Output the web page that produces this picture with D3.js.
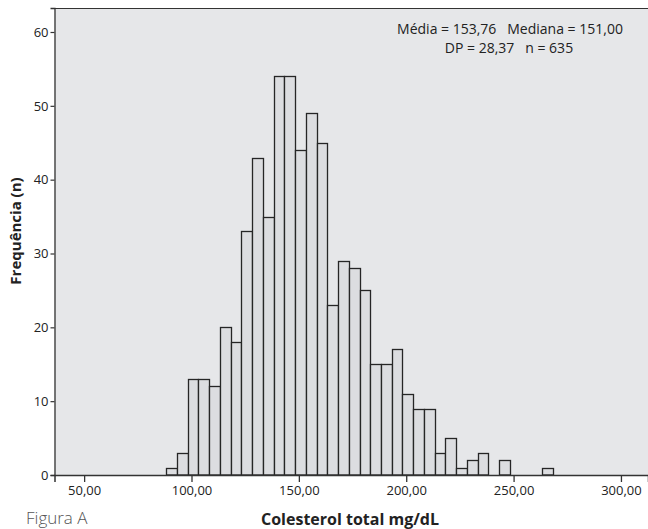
<!DOCTYPE html>
<html>
<head>
<meta charset="utf-8">
<script src="https://cdn.jsdelivr.net/npm/d3@7"></script>
<style>
  html, body { margin: 0; padding: 0; background: #fff; }
  svg { display: block; font-family: "Open Sans", "Noto Sans", sans-serif; }
</style>
</head>
<body>
<svg id="chart" width="648" height="529"></svg>
<script>
// Histogram bins (lower edge, mg/dL) and frequencies
const binStarts = [88.25, 93.25, 98.25, 103.25, 108.25, 113.25, 118.25, 123.25, 128.25, 133.25,
                   138.25, 143.25, 148.25, 153.25, 158.25, 163.25, 168.25, 173.25, 178.25, 183.25,
                   188.25, 193.25, 198.25, 203.25, 208.25, 213.25, 218.25, 223.25, 228.25, 233.25,
                   238.25, 243.25, 248.25, 253.25, 258.25, 263.25];
const binWidth = 5;
const counts = [1, 3, 13, 13, 12, 20, 18, 33, 43, 35,
                54, 54, 44, 49, 45, 23, 29, 28, 25, 15,
                15, 17, 11, 9, 9, 3, 5, 1, 2, 3,
                0, 2, 0, 0, 0, 1];
const xTicks = [50, 100, 150, 200, 250, 300];
const yTicks = [0, 10, 20, 30, 40, 50, 60];
const statsLines = ["Média = 153,76   Mediana = 151,00", "DP = 28,37   n = 635"];
const xTitle = "Colesterol total mg/dL";
const yTitle = "Frequência (n)";
const figLabel = "Figura A";

(function () {
const svg = d3.select("#chart");
const pL = 54.5, pR = 648, pT = 8, pB = 475;

const x = d3.scaleLinear().domain([36.2, 312.6]).range([pL, pR]);
const y = d3.scaleLinear().domain([0, 63.25]).range([pB, pT]);

// plot background
svg.append("rect")
  .attr("x", pL).attr("y", pT)
  .attr("width", pR - pL).attr("height", pB - pT)
  .attr("fill", "#e6e7e9");

// bars
const data = binStarts.map((s, i) => ({ s, c: counts[i] }));
svg.append("g").selectAll("rect")
  .data(data.filter(d => d.c > 0))
  .join("rect")
  .attr("x", d => Math.round(x(d.s)) + 0.5)
  .attr("width", d => Math.round(x(d.s + binWidth)) - Math.round(x(d.s)))
  .attr("y", d => Math.round(y(d.c)) + 0.5)
  .attr("height", d => pB - Math.round(y(d.c)) - 0.5)
  .attr("fill", "#dcdde0")
  .attr("stroke", "#262626")
  .attr("stroke-width", 1.3);

// frame top line
svg.append("line").attr("x1", pL).attr("x2", pR).attr("y1", pT + 0.5).attr("y2", pT + 0.5)
  .attr("stroke", "#333").attr("stroke-width", 1.2);

// axes
const xAxis = d3.axisBottom(x).tickValues(xTicks).tickSize(7).tickPadding(4)
  .tickFormat(d => d3.format(".2f")(d).replace(".", ","));
const gx = svg.append("g").attr("transform", `translate(0,${pB})`).call(xAxis);
gx.select(".domain").attr("stroke", "#333").attr("stroke-width", 1.5);
gx.selectAll(".tick line").attr("stroke", "#333").attr("stroke-width", 1.3);
gx.selectAll("text").attr("font-size", 13).attr("fill", "#222")
  .attr("font-family", "'Open Sans', sans-serif");

const yAxis = d3.axisLeft(y).tickValues(yTicks).tickSize(4).tickPadding(2).tickFormat(d3.format("d"));
const gy = svg.append("g").attr("transform", `translate(${pL},0)`).call(yAxis);
gy.select(".domain").attr("stroke", "#333").attr("stroke-width", 1.3);
gy.selectAll(".tick line").attr("stroke", "#333").attr("stroke-width", 1.2);
gy.selectAll("text").attr("font-size", 13).attr("fill", "#222")
  .attr("font-family", "'Open Sans', sans-serif");

// stats text
svg.append("text").attr("x", 510).attr("y", 34).attr("text-anchor", "middle")
  .attr("font-size", 14).attr("fill", "#222")
  .style("white-space", "pre").text(statsLines[0]);
svg.append("text").attr("x", 509).attr("y", 53).attr("text-anchor", "middle")
  .attr("font-size", 14).attr("fill", "#222")
  .style("white-space", "pre").text(statsLines[1]);

// axis titles
svg.append("text").attr("x", 350).attr("y", 525).attr("text-anchor", "middle")
  .attr("font-size", 16).attr("font-weight", "bold").attr("fill", "#222").text(xTitle);
svg.append("text").attr("transform", "translate(21,231) rotate(-90)").attr("text-anchor", "middle")
  .attr("font-size", 15).attr("font-weight", "bold").attr("fill", "#222").text(yTitle);
svg.append("text").attr("x", 26).attr("y", 524)
  .attr("font-size", 17).attr("font-weight", 300).attr("fill", "#555").text(figLabel);
})();
</script>
</body>
</html>
